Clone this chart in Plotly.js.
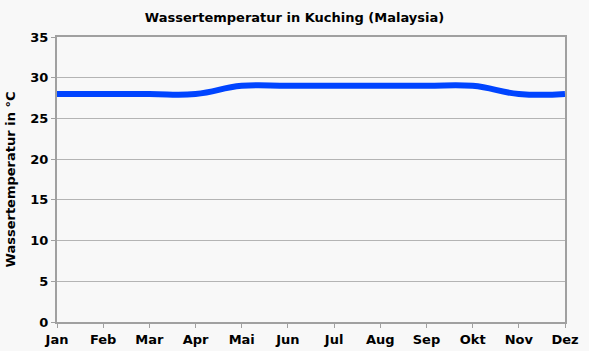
<!DOCTYPE html>
<html><head><meta charset="utf-8">
<script src="https://cdn.plot.ly/plotly-3.0.1.min.js"></script>
<style>html,body{margin:0;padding:0;background:#f8f8f8;}</style>
</head><body>
<div id="chart" style="width:589px;height:351px;"></div>
<script>
const months = ["Jan","Feb","Mar","Apr","Mai","Jun","Jul","Aug","Sep","Okt","Nov","Dez"];
const waterTemp = [28,28,28,28,29,29,29,29,29,29,28,28];
const yTicks = [0,5,10,15,20,25,30,35];

const font = {family: "DejaVu Sans, Verdana, sans-serif", color: "#000"};
Plotly.newPlot("chart", [{
  x: months, y: waterTemp, type: "scatter", mode: "lines",
  line: {color: "#0044ff", width: 6, shape: "spline", smoothing: 1.3},
  hoverinfo: "skip"
}], {
  width: 589, height: 351,
  margin: {l: 57, r: 24, t: 37, b: 29},
  paper_bgcolor: "#f8f8f8", plot_bgcolor: "#f8f8f8",
  showlegend: false,
  title: {text: "<b>Wassertemperatur in Kuching (Malaysia)</b>", font: Object.assign({size: 13}, font), x: 0.5, xanchor: "center", y: 0.949, yanchor: "middle"},
  xaxis: {
    type: "category", range: [0, 11], tickvals: months, ticktext: months.map(m => "<b>" + m + "</b>"),
    showgrid: false, showline: true, linecolor: "#a0a0a0", linewidth: 2, mirror: true,
    ticks: "outside", ticklen: 4, tickcolor: "#a0a0a0", tickfont: Object.assign({size: 13}, font), zeroline: false
  },
  yaxis: {
    range: [0, 35], tickvals: yTicks, ticktext: yTicks.map(v => "<b>" + v + "</b>"),
    showgrid: true, gridcolor: "#b4b4b4", gridwidth: 1,
    showline: true, linecolor: "#a0a0a0", linewidth: 2, mirror: true,
    ticks: "outside", ticklen: 4, tickcolor: "#a0a0a0", tickfont: Object.assign({size: 13}, font), zeroline: false,
    title: {text: "<b>Wassertemperatur in °C</b>", font: Object.assign({size: 13}, font), standoff: 12}
  }
}, {displayModeBar: false, staticPlot: true});
</script>
</body></html>
